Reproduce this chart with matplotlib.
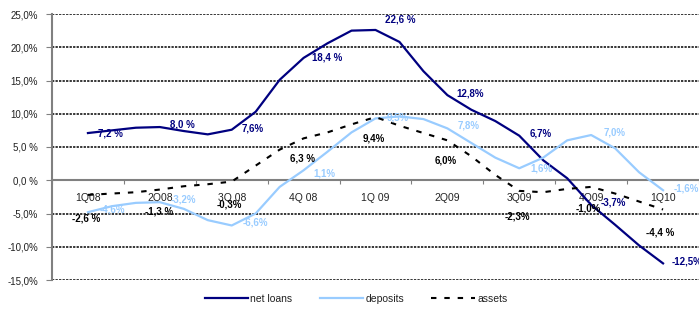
import numpy as np
import matplotlib
matplotlib.use("Agg")
import matplotlib.pyplot as plt

plt.rcParams['font.family'] = ['Liberation Sans', 'DejaVu Sans']

quarters = ["1Q08", "2Q08", "3Q 08", "4Q 08", "1Q 09", "2Q09", "3Q09", "4Q09", "1Q10"]

# monthly values, Mar 08 .. Mar 10
net_loans = [7.1, 7.5, 7.9, 8.0, 7.4, 6.9, 7.6, 10.3, 15.1, 18.4, 20.6, 22.5, 22.6,
             20.8, 16.4, 12.8, 10.6, 8.9, 6.7, 3.0, 0.3, -3.7, -6.7, -9.8, -12.5]
deposits = [-4.8, -3.9, -3.4, -3.3, -4.3, -6.0, -6.8, -5.0, -1.0, 1.5, 4.3, 7.2, 9.3,
            9.6, 9.2, 7.8, 5.6, 3.4, 1.8, 3.4, 6.0, 6.8, 4.8, 1.2, -1.5]
assets = [-2.2, -2.0, -1.8, -1.4, -0.9, -0.6, -0.2, 2.2, 4.6, 6.3, 7.2, 8.4, 9.5,
          8.2, 7.1, 6.0, 3.6, 0.8, -1.6, -1.8, -1.3, -1.0, -2.0, -3.2, -4.4]

# quarterly data labels
loans_lbl = ["7,2 %", "8,0 %", "7,6%", "18,4 %", "22,6 %", "12,8%", "6,7%", "-3,7%", "-12,5%"]
dep_lbl = ["-4,6%", "-3,2%", "-6,6%", "1,1%", "9,5%", "7,8%", "1,6%", "7,0%", "-1,6%"]
assets_lbl = ["-2,6 %", "-1,3 %", "-0,3%", "6,3 %", "9,4%", "6,0%", "-2,3%", "-1,0%", "-4,4 %"]

navy = "#000080"
light = "#99CCFF"

fig = plt.figure(figsize=(6.99, 3.20), dpi=100)
ax = fig.add_axes([52/699, 1-280/320, 1-52/699, (280-14)/320])

x = np.arange(len(net_loans))
ax.plot(x, net_loans, color=navy, lw=1.6, label="net loans", zorder=3)
ax.plot(x, deposits, color=light, lw=1.6, label="deposits", zorder=3)
ax.plot(x, assets, color="black", lw=1.5, ls=(0, (2.6, 3.8)), label="assets", zorder=4)

ax.set_xlim(-1.5, 25.5)
ax.set_ylim(-15, 25)

# grid
for v in [-15, -10, -5, 5, 10, 15, 20, 25]:
    ax.axhline(v, color="black", lw=1.1, ls=(0, (1.5, 0.8)), zorder=1)

for s in ["top", "right"]:
    ax.spines[s].set_visible(False)
ax.spines["bottom"].set_position(("data", 0))
ax.spines["bottom"].set_color("#808080")
ax.spines["bottom"].set_linewidth(1.5)
ax.spines["left"].set_color("#808080")
ax.spines["left"].set_linewidth(1.5)

ax.set_yticks(range(-15, 30, 5))
ax.set_yticklabels(["-15,0%", "-10,0%", "-5,0%", "0,0 %", "5,0 %", "10,0%", "15,0%", "20,0%", "25,0%"])
ax.tick_params(axis="y", direction="out", length=4, color="#808080", labelsize=7,
               labelcolor="#222222", pad=6)

ax.set_xticks(np.arange(-1.5, 26, 3))
ax.set_xticklabels([])
ax.tick_params(axis="x", which="major", direction="out", length=3, color="#808080")
qx = np.arange(0, 25, 3)
ax.set_xticks(qx, minor=True)
ax.set_xticklabels(quarters, minor=True)
ax.tick_params(axis="x", which="minor", length=0, labelsize=7.5, labelcolor="#222222", pad=9)

def put(vals, labels, color, dx, dy, ha="center"):
    for i, t in enumerate(labels):
        d = dx[i] if isinstance(dx, list) else dx
        e = dy[i] if isinstance(dy, list) else dy
        h = ha[i] if isinstance(ha, list) else ha
        ax.annotate(t, (qx[i], vals[qx[i]]), xytext=(d * 0.72, -e * 0.72),
                    textcoords="offset points", ha=h, va="center", color=color,
                    fontsize=7, fontweight="bold", zorder=6)

put(net_loans, loans_lbl, navy, [22, 23, 21, 24, 25, 23, 21, 22, 9],
    [0, -3, -1, 0, -10, -2, -2, -2, -2],
    ["center"] * 8 + ["left"])
put(deposits, dep_lbl, light, [24, 24, 24, 21, 22, 21, 22, 23, 23],
    [-3, -3, -3, 3, -1, -3, 0, -3, -2])
put(assets, assets_lbl, "black", [-2, -1, -2, -1, -2, -2, -2, -3, -3],
    [24, 22, 23, 20, 21, 20, 26, 22, 23])

fig.legend(loc="center", bbox_to_anchor=(356/699, 1-299/320), ncol=3, frameon=False,
           fontsize=7.5, handlelength=4.2, handletextpad=0.2, columnspacing=2.6,
           labelcolor="#222222")

fig.savefig("out.png", dpi=100)
